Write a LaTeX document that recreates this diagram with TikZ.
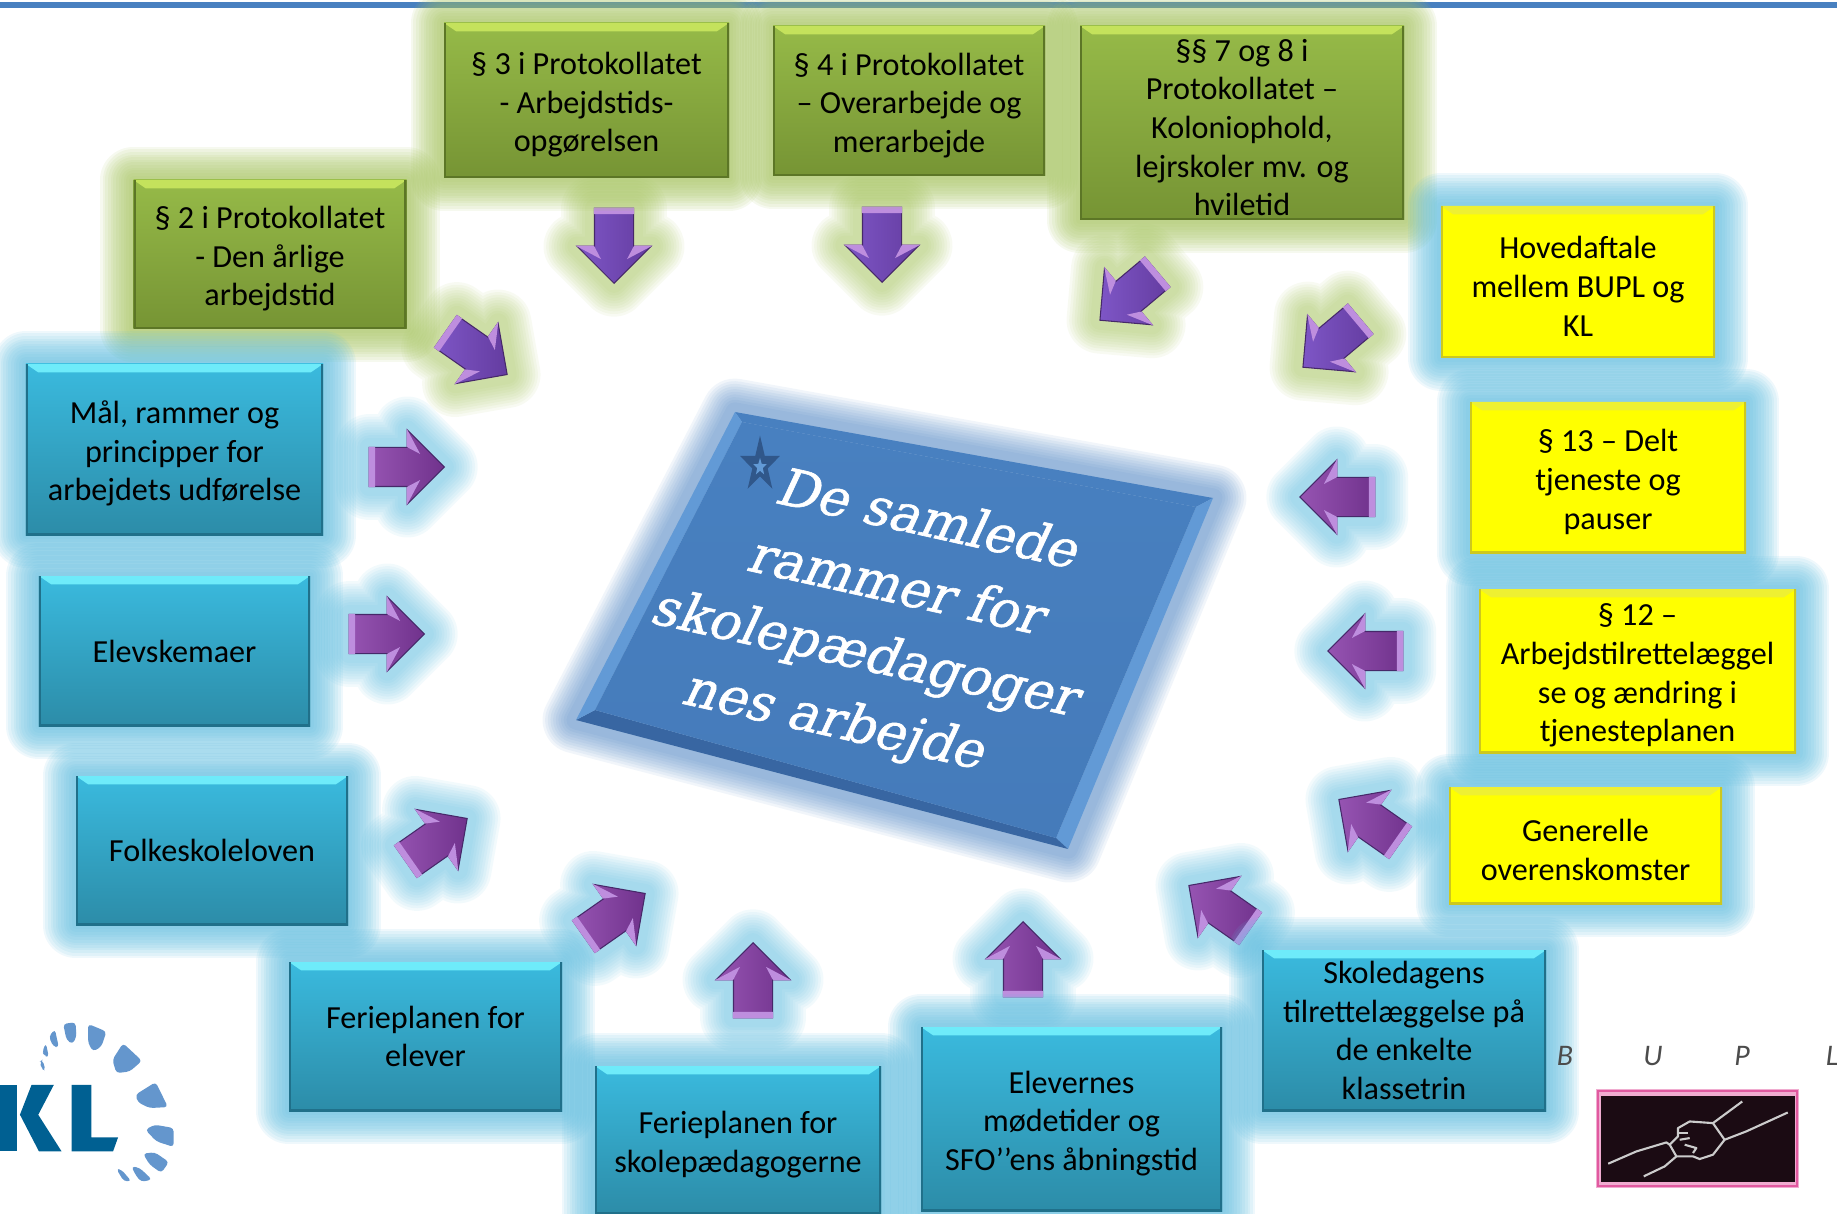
\documentclass[tikz,border=0pt]{standalone}
\usepackage{fontspec}
\setmainfont{Carlito}
\newfontfamily\slabfont[RawFeature={embolden=1.2}]{DejaVu Serif}
\usetikzlibrary{shapes.geometric,shapes.arrows,calc}
\definecolor{grontop}{RGB}{150,186,72}
\definecolor{gronbund}{RGB}{118,148,52}
\definecolor{gronlys}{RGB}{196,226,92}
\definecolor{gronmork}{RGB}{92,118,38}
\definecolor{gronglow}{RGB}{165,195,95}
\definecolor{blatop}{RGB}{58,186,222}
\definecolor{blabund}{RGB}{44,140,168}
\definecolor{blalys}{RGB}{110,235,250}
\definecolor{blamork}{RGB}{32,112,138}
\definecolor{blaglow}{RGB}{95,188,222}
\definecolor{gullys}{RGB}{255,255,0}
\definecolor{gulstrib}{RGB}{238,240,50}
\definecolor{gulmork}{RGB}{205,200,30}
\definecolor{pilblalys}{RGB}{150,84,178}
\definecolor{pilblamork}{RGB}{112,50,140}
\definecolor{pilgronlys}{RGB}{126,86,198}
\definecolor{pilgronmork}{RGB}{100,60,160}
\definecolor{pilkant}{RGB}{70,40,105}
\definecolor{pilhoj}{RGB}{190,142,222}
\definecolor{midte}{RGB}{72,128,192}
\definecolor{midtemork}{RGB}{56,102,162}
\definecolor{midtelys}{RGB}{98,154,214}
\definecolor{klmork}{RGB}{0,96,146}
\definecolor{kllys}{RGB}{100,150,205}
\definecolor{pink}{RGB}{225,90,160}
\newcommand{\op}{\rule{0pt}{8.8pt}}
\tikzset{
glowstroke/.style={draw=#1,draw opacity=.1,line join=round},
glow/.style={preaction={glowstroke=#1,line width=19pt},preaction={glowstroke=#1,line width=17.5pt},preaction={glowstroke=#1,line width=16pt},preaction={glowstroke=#1,line width=14.5pt},preaction={glowstroke=#1,line width=13pt},preaction={glowstroke=#1,line width=11.5pt},preaction={glowstroke=#1,line width=10pt},preaction={glowstroke=#1,line width=8.5pt},preaction={glowstroke=#1,line width=7pt},preaction={glowstroke=#1,line width=5.5pt},preaction={glowstroke=#1,line width=4pt},preaction={glowstroke=#1,line width=2.5pt}},
softglowstroke/.style={draw=#1,draw opacity=.08,line join=round},
softglow/.style={preaction={softglowstroke=#1,line width=19pt},preaction={softglowstroke=#1,line width=17.5pt},preaction={softglowstroke=#1,line width=16pt},preaction={softglowstroke=#1,line width=14.5pt},preaction={softglowstroke=#1,line width=13pt},preaction={softglowstroke=#1,line width=11.5pt},preaction={softglowstroke=#1,line width=10pt},preaction={softglowstroke=#1,line width=8.5pt},preaction={softglowstroke=#1,line width=7pt},preaction={softglowstroke=#1,line width=5.5pt}},
bevel/.style n args={2}{path picture={
\fill [#1] (path picture bounding box.north west) -- (path picture bounding box.north east) -- ([xshift=-3.5pt,yshift=-2.4pt]path picture bounding box.north east) -- ([xshift=3.5pt,yshift=-2.4pt]path picture bounding box.north west) -- cycle;
\draw [#2,line width=1.2pt] (path picture bounding box.north east) -- (path picture bounding box.south east) -- (path picture bounding box.south west) -- (path picture bounding box.north west);
}},
box/.style={align=center,inner sep=0pt,text=black,font=\fontsize{9.15}{11}\selectfont},
gronbox/.style={box,top color=grontop,bottom color=gronbund,glow=gronglow,bevel={gronlys}{gronmork}},
blabox/.style={box,top color=blatop,bottom color=blabund,glow=blaglow,bevel={blalys}{blamork}},
gulbox/.style={box,fill=gullys,glow=blaglow,bevel={gulstrib}{gulmork}},
pil/.style={single arrow,inner xsep=0pt,inner ysep=.19cm,minimum height=.75cm,single arrow head extend=.175cm,single arrow tip angle=90,draw=pilkant,line width=.3pt},
pilblaa/.style={pil,left color=pilblalys,right color=pilblamork,softglow=blaglow},
pilgron/.style={pil,left color=pilgronlys,right color=pilgronmork,softglow=gronglow},
peg/.style={rotate=#1,xshift=-.08cm},
}
\begin{document}
\begin{tikzpicture} [x=1cm,y=-1cm]
%\draw [help lines, step=1cm](0,0) grid (18.37,12.13);
\useasboundingbox (0,0) rectangle (18.37,12.13);
\fill [midte] (0,.02) rectangle (18.37,.08);

% midterste felt
\coordinate (ov) at (7.35,4.12);
\coordinate (oh) at (12.13,4.98);
\coordinate (nh) at (10.68,8.49);
\coordinate (nv) at (5.76,7.20);
\coordinate (iov) at (7.42,4.22);
\coordinate (ioh) at (11.96,5.07);
\coordinate (inh) at (10.56,8.38);
\coordinate (inv) at (5.95,7.10);
\path [softglow=midte] (ov) -- (oh) -- (nh) -- (nv) -- cycle;
\fill [midte] (ov) -- (oh) -- (ioh) -- (iov) -- cycle;
\fill [midtelys] (oh) -- (nh) -- (inh) -- (ioh) -- cycle;
\fill [midtemork] (nh) -- (nv) -- (inv) -- (inh) -- cycle;
\fill [midtelys] (nv) -- (ov) -- (iov) -- (inv) -- cycle;
\shade [top color=midte,bottom color=midte!80!midtemork] (iov) -- (ioh) -- (inh) -- (inv) -- cycle;
\node [star,star points=5,star point ratio=2.6,inner sep=0pt,minimum size=.42cm,fill=midtemork!85!black,yscale=1.4,transform shape] (stjerne) at (7.60,4.65) {};
\node [star,star points=5,star point ratio=2.4,inner sep=0pt,minimum size=.14cm,fill=midtelys,yscale=1.3,transform shape] (stjernelys) at (7.60,4.67) {};
\node [rotate=-12.5,xslant=.22,transform shape,align=center,text=white,font=\slabfont\fontsize{14.7}{20.5}\selectfont] (titel) at (8.82,6.23) {De samlede\\rammer for\\skolepædagoger\\nes arbejde};

% pile
\node [pilgron,peg=-35] (pilto) at (4.75,3.52) {};
\node [pilgron,peg=-90] (piltre) at (6.14,2.44) {};
\node [pilgron,peg=-90] (pilfire) at (8.82,2.43) {};
\node [pilgron,peg=220] (pilsyv) at (11.30,2.95) {};
\node [pilgron,peg=220] (pilhoved) at (13.33,3.42) {};
\node [pilblaa,peg=180] (piltretten) at (13.39,4.97) {};
\node [pilblaa,peg=180] (piltolv) at (13.67,6.51) {};
\node [pilblaa,peg=145] (pilgen) at (13.71,8.22) {};
\node [pilblaa,peg=145] (pilklasse) at (12.21,9.08) {};
\node [pilblaa,peg=90] (pilmoede) at (10.23,9.61) {};
\node [pilblaa,peg=90] (pilped) at (7.53,9.82) {};
\node [pilblaa,peg=35] (pilelev) at (6.13,9.16) {};
\node [pilblaa,peg=35] (pillov) at (4.35,8.41) {};
\node [pilblaa,peg=0] (pilskema) at (3.85,6.34) {};
\node [pilblaa,peg=0] (pilmaal) at (4.05,4.67) {};
\foreach \p in {pilto,piltre,pilfire,pilsyv,pilhoved,piltretten,piltolv,pilgen,pilklasse,pilmoede,pilped,pilelev,pillov,pilskema,pilmaal}
{
\fill [pilhoj] (\p.before tail) -- (\p.after tail) -- ($(\p.after tail)!.17!(\p.before head)$) -- ($(\p.before tail)!.17!(\p.after head)$) -- cycle;
\fill [pilhoj] (\p.after tip) -- (\p.after head) -- ($(\p.after head)!.35!(\p.tip)$) -- cycle;
\fill [pilhoj] (\p.before tip) -- (\p.before head) -- ($(\p.before head)!.35!(\p.tip)$) -- cycle;
}

% felter
\node [gronbox,minimum width=2.73cm,minimum height=1.49cm] (parto) at (2.70,2.545) {\op § 2 i Protokollatet\\- Den årlige\\arbejdstid};
\node [gronbox,minimum width=2.85cm,minimum height=1.55cm] (partre) at (5.865,1.005) {\op § 3 i Protokollatet\\- Arbejdstids-\\opgørelsen};
\node [gronbox,minimum width=2.72cm,minimum height=1.50cm] (parfire) at (9.09,1.01) {\op § 4 i Protokollatet\\– Overarbejde og\\merarbejde};
\node [gronbox,minimum width=3.24cm,minimum height=1.94cm] (parsyv) at (12.42,1.23) {\op §§ 7 og 8 i\\Protokollatet –\\Koloniophold,\\lejrskoler mv. og\\hviletid};

\node [gulbox,minimum width=2.74cm,minimum height=1.52cm] (hoved) at (15.78,2.82) {\op Hovedaftale\\mellem BUPL og\\KL};
\node [gulbox,minimum width=2.76cm,minimum height=1.51cm] (partretten) at (16.08,4.775) {\op § 13 – Delt\\tjeneste og\\pauser};
\node [gulbox,minimum width=3.17cm,minimum height=1.64cm] (partolv) at (16.375,6.71) {\op § 12 –\\Arbejdstilrettelæggel\\se og ændring i\\tjenesteplanen};
\node [gulbox,minimum width=2.73cm,minimum height=1.17cm] (generelle) at (15.855,8.455) {\op Generelle\\overenskomster};

\node [blabox,minimum width=2.97cm,minimum height=1.71cm] (maal) at (1.745,4.495) {\op Mål, rammer og\\principper for\\arbejdets udførelse};
\node [blabox,minimum width=2.71cm,minimum height=1.50cm] (skemaer) at (1.745,6.51) {Elevskemaer};
\node [blabox,minimum width=2.72cm,minimum height=1.49cm] (loven) at (2.12,8.505) {Folkeskoleloven};
\node [blabox,minimum width=2.73cm,minimum height=1.49cm] (ferieelev) at (4.255,10.365) {Ferieplanen for\\elever};
\node [blabox,minimum width=2.86cm,minimum height=1.48cm] (ferieped) at (7.38,11.40) {\op Ferieplanen for\\skolepædagogerne};
\node [blabox,minimum width=3.01cm,minimum height=1.84cm] (moede) at (10.715,11.19) {\op Elevernes\\mødetider og\\SFO’’ens åbningstid};
\node [blabox,minimum width=2.84cm,minimum height=1.61cm] (klassetrin) at (14.04,10.305) {Skoledagens\\tilrettelæggelse på\\de enkelte\\klassetrin};

% KL logo
\begin{scope}[shift={(0,9.8)},x=.003333cm,y=-.003333cm]
\fill [klmork] (0,315) rectangle (50,515);
\fill [klmork] (95,315) -- (162,315) -- (115,405) -- (185,515) -- (117,515) -- (60,405) -- cycle;
\fill [klmork] (215,315) -- (275,315) -- (275,473) -- (355,473) -- (340,515) -- (215,515) -- cycle;
\fill [kllys,rounded corners=1pt] (120,245) -- (128,240) -- (137,272) -- (125,268) -- cycle;
\fill [kllys,rounded corners=1pt] (127,215) -- (138,190) -- (147,232) -- (133,228) -- cycle;
\fill [kllys,rounded corners=1pt] (147,170) -- (165,148) -- (177,203) -- (160,200) -- cycle;
\fill [kllys,rounded corners=1pt] (190,132) -- (227,127) -- (230,170) -- (218,193) -- (200,180) -- cycle;
\fill [kllys,rounded corners=1pt] (265,132) -- (320,155) -- (305,200) -- (280,215) -- (265,190) -- cycle;
\fill [kllys,rounded corners=1pt] (370,190) -- (427,243) -- (390,275) -- (350,280) -- (338,240) -- cycle;
\fill [kllys,rounded corners=1pt] (407,345) -- (468,307) -- (505,382) -- (450,385) -- (415,368) -- cycle;
\fill [kllys,rounded corners=1pt] (437,450) -- (465,435) -- (522,445) -- (522,502) -- (470,485) -- cycle;
\fill [kllys,rounded corners=1pt] (430,522) -- (465,518) -- (508,547) -- (485,580) -- (450,555) -- cycle;
\fill [kllys,rounded corners=1pt] (395,560) -- (420,565) -- (457,600) -- (425,607) -- (410,590) -- cycle;
\fill [kllys,rounded corners=1pt] (350,568) -- (365,570) -- (395,605) -- (372,605) -- cycle;
\end{scope}

% BUPL logo
\foreach \bogstav/\bx/\navn in {B/15.65/bB,U/16.53/bU,P/17.42/bP,L/18.32/bL}
  \node [text=black!70,font=\itshape\fontsize{8.5}{10}\selectfont,inner sep=0pt] (\navn) at (\bx,10.56) {\bogstav};
\fill [pink!50] (15.96,10.89) rectangle (17.99,11.88);
\fill [black!88!pink] (16.01,10.96) rectangle (17.95,11.82);
\draw [pink,line width=.5pt] (15.98,10.91) rectangle (17.97,11.86);
\begin{scope}[shift={(15.30,10.20)},x=.003333cm,y=-.003333cm,draw=black!20,line width=.6pt,line join=round]
\draw (235,432) -- (320,395) -- (410,368) -- (420,375);
\draw (342,470) -- (405,440) -- (440,410);
\draw (638,245) -- (550,310);
\draw (775,278) -- (650,335) -- (585,360);
\draw (550,310) -- (480,305) -- (445,325) -- (445,350) -- (420,375) -- (440,410) -- (490,410) -- (510,418) -- (550,405) -- (585,360) -- cycle;
\draw (445,340) -- (475,340);
\draw (450,360) -- (480,355);
\draw (465,375) -- (500,385) -- (490,400);
\end{scope}
\end{tikzpicture}
\end{document}
